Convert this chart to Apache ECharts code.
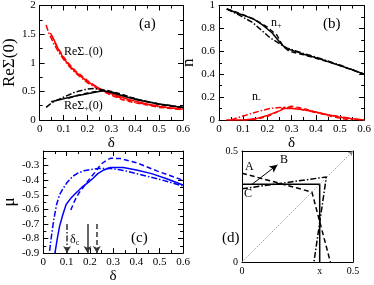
<!DOCTYPE html>
<html><head><meta charset="utf-8">
<script src="https://cdn.jsdelivr.net/npm/echarts@6/dist/echarts.min.js"></script>
<style>html,body{margin:0;padding:0;background:#fff}#c{width:374px;height:285px}</style>
</head><body><div id="c"></div>
<script>
// ---------- DATA ----------
// panel (a): Re Sigma(0) vs delta
var aRedSolid = [[0.045,1.52],[0.06,1.4],[0.08,1.22],[0.1,1.08],[0.125,0.95],[0.15,0.84],[0.2,0.67],[0.25,0.55],[0.3,0.46],[0.35,0.39],[0.4,0.33],[0.45,0.28],[0.5,0.24],[0.55,0.21],[0.6,0.19]];
var aRedDash = [[0.05,1.48],[0.07,1.3],[0.1,1.1],[0.125,0.97],[0.15,0.86],[0.2,0.69],[0.25,0.54],[0.3,0.43],[0.35,0.35],[0.4,0.3],[0.45,0.26],[0.5,0.22],[0.55,0.2],[0.6,0.18]];
var aRedDashDot = [[0.027,1.66],[0.04,1.5],[0.06,1.33],[0.08,1.18],[0.1,1.06],[0.125,0.93],[0.15,0.82],[0.2,0.65],[0.25,0.53],[0.3,0.44],[0.35,0.37],[0.4,0.31],[0.5,0.23],[0.6,0.19]];
var aBlackSolid = [[0.048,0.32],[0.1,0.37],[0.15,0.42],[0.2,0.46],[0.264,0.51],[0.3,0.48],[0.35,0.42],[0.4,0.36],[0.45,0.32],[0.5,0.28],[0.55,0.25],[0.6,0.22]];
var aBlackDash = [[0.12,0.38],[0.15,0.42],[0.2,0.47],[0.25,0.51],[0.28,0.52],[0.3,0.5],[0.35,0.44],[0.4,0.37],[0.45,0.32],[0.5,0.27],[0.6,0.22]];
var aBlackDashDot = [[0.027,0.22],[0.05,0.3],[0.1,0.4],[0.15,0.49],[0.2,0.54],[0.23,0.55],[0.26,0.53],[0.3,0.49],[0.35,0.43],[0.4,0.37],[0.5,0.28],[0.6,0.22]];
// panel (b): n vs delta
var bBlackSolid = [[0.032,0.97],[0.08,0.93],[0.14,0.885],[0.18,0.83],[0.22,0.76],[0.255,0.67],[0.276,0.625],[0.3,0.61],[0.35,0.575],[0.4,0.545],[0.45,0.51],[0.5,0.475],[0.55,0.44],[0.6,0.40]];
var bBlackDash = [[0.032,0.97],[0.1,0.92],[0.15,0.875],[0.2,0.81],[0.24,0.74],[0.26,0.66],[0.29,0.6],[0.32,0.585],[0.35,0.57],[0.4,0.54],[0.45,0.51],[0.5,0.475],[0.6,0.40]];
var bBlackDashDot = [[0.032,0.97],[0.08,0.92],[0.14,0.85],[0.21,0.72],[0.255,0.66],[0.28,0.63],[0.3,0.615],[0.35,0.58],[0.4,0.55],[0.5,0.48],[0.6,0.40]];
var bRedSolid = [[0.03,0.0],[0.1,0.0],[0.15,0.01],[0.2,0.04],[0.25,0.08],[0.27,0.1],[0.3,0.1],[0.35,0.09],[0.4,0.07],[0.45,0.045],[0.5,0.025],[0.55,0.01],[0.6,0.0]];
var bRedDash = [[0.1,0.0],[0.15,0.005],[0.2,0.03],[0.24,0.07],[0.27,0.11],[0.3,0.12],[0.35,0.1],[0.4,0.07],[0.45,0.04],[0.5,0.015],[0.55,0.0]];
var bRedDashDot = [[0.05,0.0],[0.07,0.015],[0.1,0.035],[0.14,0.06],[0.18,0.085],[0.21,0.1],[0.25,0.11],[0.28,0.11],[0.32,0.1],[0.36,0.085],[0.41,0.06],[0.45,0.045],[0.5,0.03],[0.55,0.01],[0.6,0.0]];
// panel (c): mu vs delta
var cSolid = [[0.05,-0.9],[0.06,-0.8],[0.07,-0.715],[0.085,-0.63],[0.098,-0.567],[0.12,-0.52],[0.139,-0.49],[0.165,-0.45],[0.193,-0.415],[0.215,-0.385],[0.234,-0.355],[0.26,-0.33],[0.288,-0.313],[0.343,-0.313],[0.4,-0.33],[0.465,-0.355],[0.53,-0.39],[0.6,-0.433]];
var cDash = [[0.118,-0.605],[0.135,-0.54],[0.152,-0.49],[0.18,-0.43],[0.207,-0.375],[0.23,-0.33],[0.248,-0.29],[0.27,-0.265],[0.288,-0.25],[0.33,-0.252],[0.4,-0.28],[0.49,-0.338],[0.6,-0.40]];
var cDashDot = [[0.027,-0.885],[0.032,-0.82],[0.037,-0.76],[0.045,-0.67],[0.057,-0.567],[0.07,-0.5],[0.084,-0.46],[0.1,-0.42],[0.125,-0.375],[0.15,-0.35],[0.18,-0.333],[0.234,-0.32],[0.29,-0.32],[0.35,-0.335],[0.4,-0.355],[0.49,-0.39],[0.6,-0.44]];
var cArrowX = [0.102, 0.19, 0.23];          // delta_c markers: dash-dot, solid, dashed
var cArrowFrom = -0.7, cArrowTo = -0.9;
// panel (d): schematic
var dSolid = [[0,0.35],[0.35,0.35],[0.35,0]];
var dDash = [[0,0.40],[0.315,0.315],[0.398,0]];
var dDashDot = [[0,0.33],[0.38,0.383],[0.324,0]];
var dDiag = [[0,0],[0.5,0.5]];
var dArrow = [[0.045,0.35],[0.16,0.438]];
var dMark = 0.35;   // "x" tick

// ---------- STYLE / OPTION ----------
var FONT = 'Liberation Serif';
var DASH = [5,3], DASHDOT = [6,2,1.5,2];
var grids = [
  {left:36, top:4, width:147, height:116},
  {left:219, top:4, width:148, height:116},
  {left:36, top:151, width:147, height:110},
  {left:242, top:151, width:111, height:111}
];
function xAx(gi, min, max, interval, opts){
  opts = opts||{};
  var base = {type:'value', gridIndex:gi, min:min, max:max, interval:interval,
    axisLine:{onZero:false, lineStyle:{color:'#000', width:1}},
    axisTick:{show:opts.ticks!==false, inside:true, length:5, lineStyle:{color:'#000'}},
    minorTick:{show:opts.ticks!==false, splitNumber:2, length:3, lineStyle:{color:'#000'}},
    splitLine:{show:false}, minorSplitLine:{show:false},
    axisLabel:{show:true, color:'#000', fontFamily:FONT, fontSize:opts.fs||11, margin:4, formatter:opts.fmt},
  };
  if (opts.name){ base.name=opts.name; base.nameLocation='middle'; base.nameGap=opts.gap; base.nameTextStyle={color:'#000', fontFamily:FONT, fontSize:15}; }
  var top = JSON.parse(JSON.stringify(base)); top.position='top'; top.axisLabel={show:false}; delete top.name;
  base.position='bottom';
  return [base, top];
}
function yAx(gi, min, max, interval, opts){
  opts = opts||{};
  var base = {type:'value', gridIndex:gi, min:min, max:max, interval:interval,
    axisLine:{onZero:false, lineStyle:{color:'#000', width:1}},
    axisTick:{show:opts.ticks!==false, inside:true, length:5, lineStyle:{color:'#000'}},
    minorTick:{show:opts.ticks!==false, splitNumber:2, length:3, lineStyle:{color:'#000'}},
    splitLine:{show:false}, minorSplitLine:{show:false},
    axisLabel:{show:true, color:'#000', fontFamily:FONT, fontSize:opts.fs||11, margin:4, formatter:opts.fmt, showMaxLabel:opts.showMax, showMinLabel:true},
  };
  if (opts.name){ base.name=opts.name; base.nameLocation='middle'; base.nameGap=opts.gap; base.nameTextStyle={color:'#000', fontFamily:FONT, fontSize:17}; }
  var right = JSON.parse(JSON.stringify(base)); right.position='right'; right.axisLabel={show:false}; delete right.name;
  base.position='left';
  return [base, right];
}
var fmtNum = function(v){ var r=Math.round(v*100)/100; return String(r); };
var xAxes = [].concat(
  xAx(0,0,0.6,0.1,{name:'δ', gap:13, fmt:fmtNum}),
  xAx(1,0,0.6,0.1,{name:'δ', gap:13, fmt:fmtNum}),
  xAx(2,0,0.6,0.1,{name:'δ', gap:13, fmt:fmtNum}),
  xAx(3,0,0.5,0.05,{ticks:false, fs:10, fmt:function(v){ if(Math.abs(v)<1e-9) return '0'; if(Math.abs(v-0.5)<1e-9) return '0.5'; if(Math.abs(v-dMark)<1e-9) return 'x'; return ''; }})
);
var yAxes = [].concat(
  yAx(0,0,2,0.5,{name:'ReΣ(0)', gap:19, fmt:fmtNum}),
  yAx(1,0,1,0.2,{name:'n', gap:16, fmt:fmtNum}),
  yAx(2,-0.9,-0.2,0.1,{name:'μ', gap:22, fmt:fmtNum, showMax:false}),
  yAx(3,0,0.5,0.5,{ticks:false, fs:10, fmt:fmtNum})
);
function ln(xi, data, color, type, w){
  return {type:'line', xAxisIndex:xi*2, yAxisIndex:xi*2, data:data, showSymbol:false, symbol:'none', silent:true, animation:false,
    lineStyle:{color:color, width:w||1.5, type:type||'solid'}, clip:true};
}
var RED='#ff0000', BLK='#000000', BLU='#0000ff';
var series = [
  ln(0,aRedSolid,RED,'solid'), ln(0,aRedDash,RED,DASH), ln(0,aRedDashDot,RED,DASHDOT),
  ln(0,aBlackSolid,BLK,'solid'), ln(0,aBlackDash,BLK,DASH), ln(0,aBlackDashDot,BLK,DASHDOT),
  ln(1,bBlackSolid,BLK,'solid'), ln(1,bBlackDash,BLK,DASH), ln(1,bBlackDashDot,BLK,DASHDOT),
  ln(1,bRedSolid,RED,'solid'), ln(1,bRedDash,RED,DASH), ln(1,bRedDashDot,RED,DASHDOT),
  ln(2,cSolid,BLU,'solid'), ln(2,cDash,BLU,DASH), ln(2,cDashDot,BLU,DASHDOT),
  ln(3,dSolid,BLK,'solid',1.5), ln(3,dDash,BLK,DASH,1.5), ln(3,dDashDot,BLK,DASHDOT,1.5)
];
// dotted diagonal with small arrowhead in (d)
series.push({type:'line', xAxisIndex:6, yAxisIndex:6, data:[], silent:true, animation:false,
  markLine:{silent:true, animation:false, symbol:['none','arrow'], symbolSize:[4,5], label:{show:false},
    lineStyle:{color:'#888', width:0.8, type:[1.5,1.5]},
    data:[[{coord:dDiag[0]},{coord:dDiag[1]}]]}});
// delta_c arrows in (c)
var arrowTypes = [DASHDOT,'solid',DASH];
cArrowX.forEach(function(x,i){
  series.push({type:'line', xAxisIndex:4, yAxisIndex:4, data:[], silent:true, animation:false,
    markLine:{silent:true, animation:false, symbol:['none','arrow'], symbolSize:[6,7], label:{show:false},
      lineStyle:{color:'#333', width:1.5, type:arrowTypes[i]},
      data:[[{coord:[x,cArrowFrom]},{coord:[x,cArrowTo]}]]}});
});
// arrow in (d)
series.push({type:'line', xAxisIndex:6, yAxisIndex:6, data:[], silent:true, animation:false,
  markLine:{silent:true, animation:false, symbol:['none','arrow'], symbolSize:[6,8], label:{show:false},
    lineStyle:{color:'#000', width:1, type:'solid'},
    data:[[{coord:dArrow[0]},{coord:dArrow[1]}]]}});

function txt(x,y,text,size,rich,align){
  return {type:'text', left:x, top:y, silent:true, style:{text:text, fill:'#000', font:(size||13)+'px "'+FONT+'"', rich:rich, align:align}};
}
var subRich = {s:{fontSize:8, fontFamily:FONT, fill:'#000', padding:[6,0,0,0]}, m:{fontSize:12, fontFamily:FONT, fill:'#000'}};
var graphic = [
  txt(64,46,'{m|ReΣ}{s|−}{m|(0)}',12,subRich),
  txt(64,100,'{m|ReΣ}{s|+}{m|(0)}',12,subRich),
  txt(139,17,'(a)',15),
  txt(323,17,'(b)',15),
  txt(131,231,'(c)',15),
  txt(222,231,'(d)',15),
  txt(271,17,'{m|n}{s|+}',12,subRich),
  txt(252,91,'{m|n}{s|-}',12,subRich),
  txt(70,234,'{m|δ}{s|c}',12,subRich),
  txt(245,161,'A',12),
  txt(280,154,'B',12),
  txt(244,188,'C',12)
];
var chart = echarts.init(document.getElementById('c'), null, {renderer:'canvas'});
chart.setOption({animation:false, grid:grids, xAxis:xAxes, yAxis:yAxes, series:series, graphic:graphic});
</script></body></html>
